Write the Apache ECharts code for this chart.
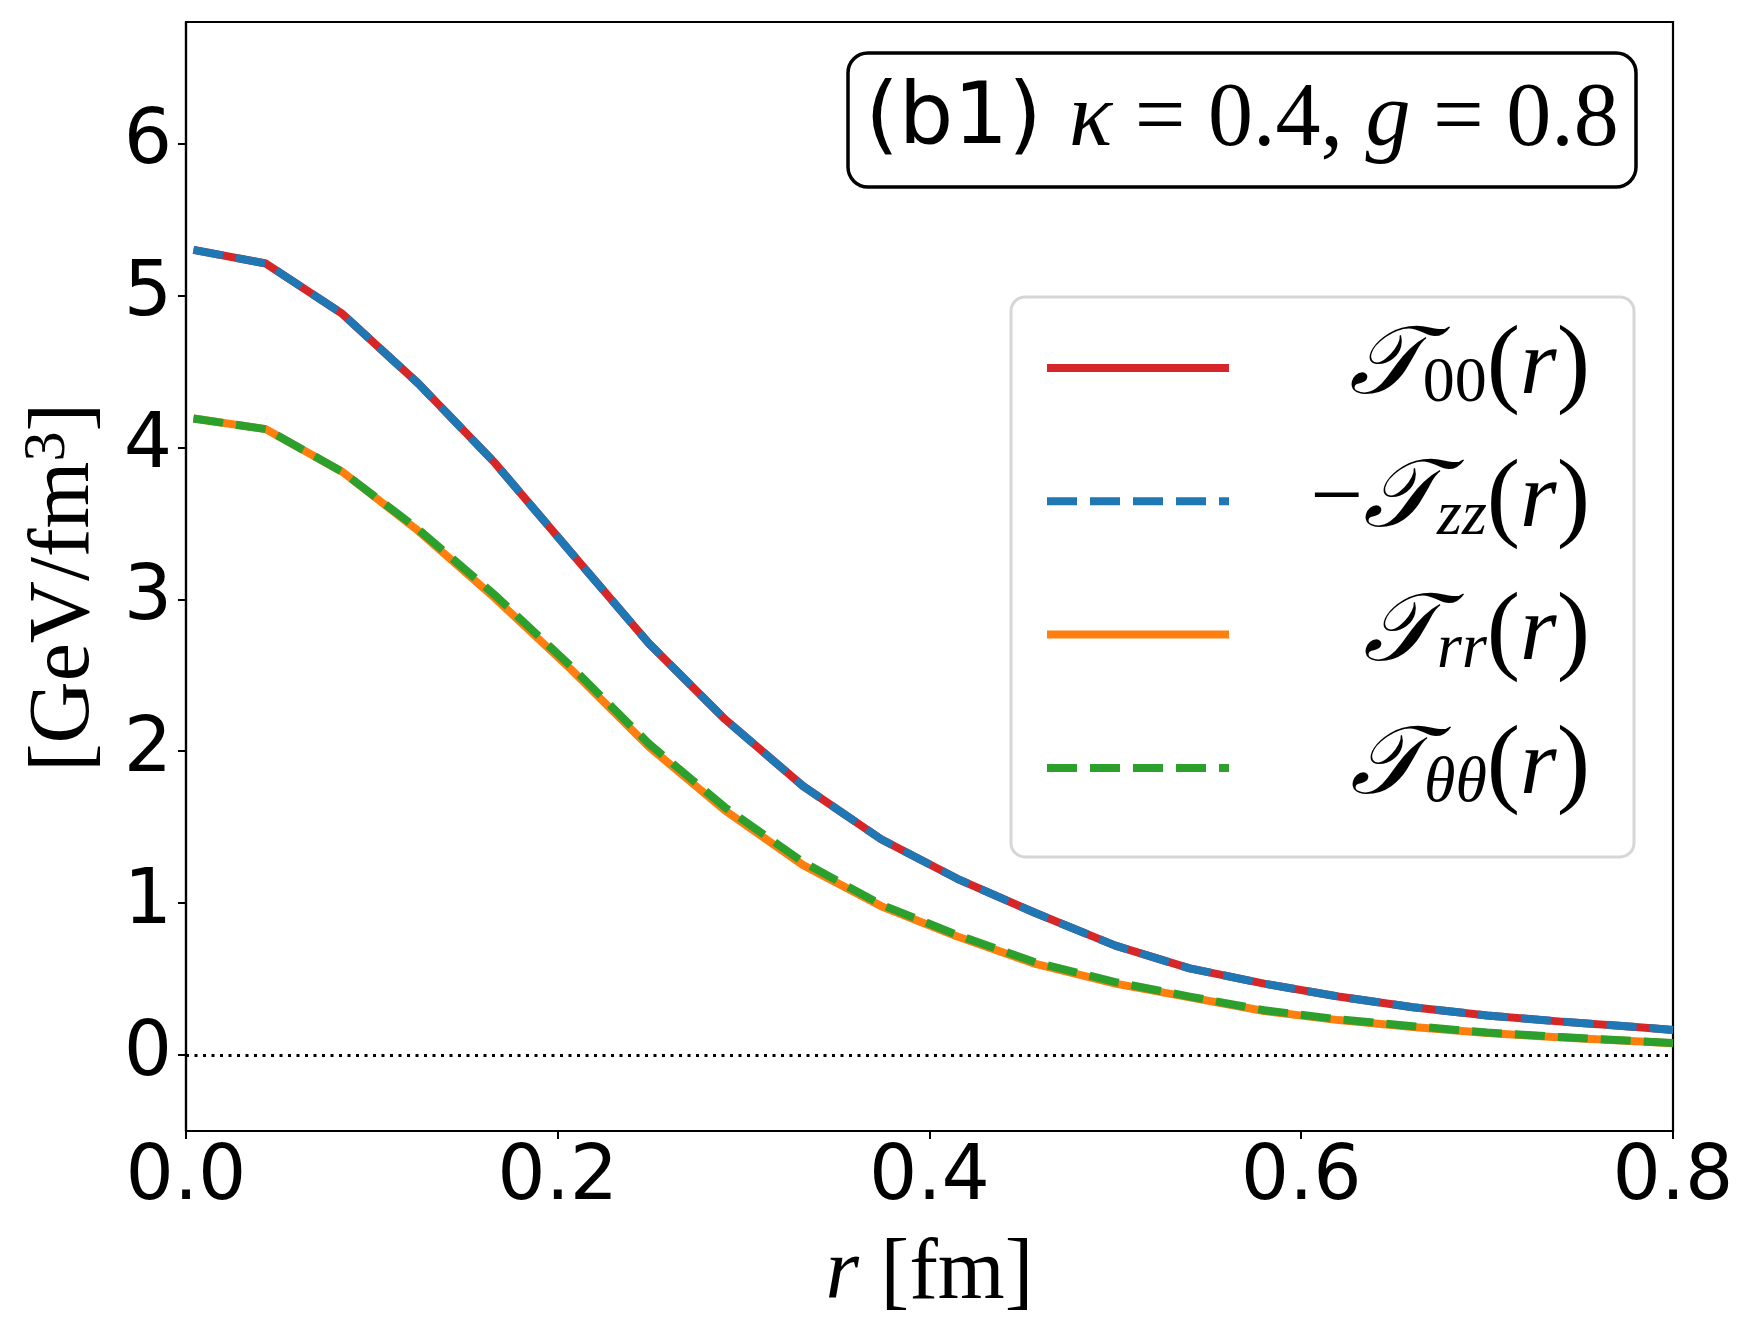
<!DOCTYPE html>
<html>
<head>
<meta charset="utf-8">
<script src="https://cdn.jsdelivr.net/npm/echarts@6.0.0/dist/echarts.min.js"></script>
<style>
  html, body { margin: 0; padding: 0; background: #fff; }
  #chart { width: 1749px; height: 1332px; }
</style>
</head>
<body>
<div id="chart"></div>
<script>
// radial grid and the four stress-tensor components (GeV/fm^3)
const rFm = [0.004, 0.043, 0.084, 0.125, 0.166, 0.207, 0.249, 0.290, 0.332, 0.374, 0.415,
             0.457, 0.500, 0.540, 0.580, 0.620, 0.660, 0.700, 0.740, 0.780, 0.800];
const t00 = [5.30, 5.21, 4.88, 4.42, 3.90, 3.31, 2.71, 2.21, 1.77, 1.42, 1.16,
             0.935, 0.72, 0.57, 0.47, 0.385, 0.315, 0.26, 0.22, 0.185, 0.165];
const tzzNeg = [5.30, 5.21, 4.88, 4.42, 3.90, 3.31, 2.71, 2.21, 1.77, 1.42, 1.16,
                0.935, 0.72, 0.57, 0.47, 0.385, 0.315, 0.26, 0.22, 0.185, 0.165];
const trr = [4.19, 4.12, 3.84, 3.45, 3.01, 2.54, 2.03, 1.61, 1.25, 0.98, 0.78,
             0.60, 0.47, 0.38, 0.29, 0.23, 0.185, 0.145, 0.115, 0.09, 0.078];
const tthth = [4.19, 4.12, 3.84, 3.46, 3.03, 2.56, 2.05, 1.63, 1.27, 0.99, 0.79,
               0.61, 0.48, 0.385, 0.295, 0.235, 0.19, 0.148, 0.118, 0.092, 0.08];

const yTicks = [0, 1, 2, 3, 4, 5, 6];

const SANS = "DejaVu Sans";
const SERIF = "Liberation Serif";

const pairs = (ys) => rFm.map((r, i) => [r, ys[i]]);

// mathtext-ish legend labels, right-aligned inside a fixed-width box
const LABELS = {
  T00: "{T|𝒯}{sub|00}{p|(}{i|r}{p|)}",
  Tzz: "{m|−}{T|𝒯}{subi|zz}{p|(}{i|r}{p|)}",
  Trr: "{T|𝒯}{subi|rr}{p|(}{i|r}{p|)}",
  Tth: "{T|𝒯}{subi|θθ}{p|(}{i|r}{p|)}",
};
const R = (o) => Object.assign({ align: "right", lineHeight: 90, color: "#000" }, o);

const line = (name, ys, color, dashed) => ({
  name, type: "line", data: pairs(ys), symbol: "none", silent: true,
  lineStyle: {
    color, width: 8, type: dashed ? [30, 13] : "solid",
    cap: "butt", join: "round",
  },
  itemStyle: { color },
});

const series = [
  line("T00", t00, "#d62728", false),
  line("Tzz", tzzNeg, "#1f77b4", true),
  line("Trr", trr, "#ff7f0e", false),
  line("Tth", tthth, "#2ca02c", true),
];
series[0].markLine = {
  silent: true, symbol: "none", label: { show: false },
  lineStyle: { color: "#000", type: [3, 5.5], width: 3 },
  data: [{ yAxis: 0 }],
};

const chart = echarts.init(document.getElementById("chart"), null, { renderer: "canvas" });
chart.setOption({
  animation: false,
  backgroundColor: "#fff",
  grid: {
    left: 186, right: 76, top: 22, bottom: 201,
    show: true, borderColor: "#000", borderWidth: 2.2, backgroundColor: "transparent",
  },
  xAxis: {
    type: "value", min: 0, max: 0.8, interval: 0.2,
    axisLine: { onZero: false, lineStyle: { color: "#000", width: 2.2 } },
    axisTick: { inside: false, length: 8, lineStyle: { color: "#000", width: 2 } },
    axisLabel: {
      color: "#000", fontFamily: SANS, fontSize: 76, margin: 10,
      showMinLabel: true, showMaxLabel: true,
      formatter: (v) => v.toFixed(1),
    },
    splitLine: { show: false },
    name: "{i|r} [fm]", nameLocation: "middle", nameGap: 101,
    nameTextStyle: {
      color: "#000", fontFamily: SERIF, fontSize: 86,
      rich: { i: { fontFamily: SERIF, fontStyle: "italic", fontSize: 86 } },
    },
  },
  yAxis: {
    type: "value", min: -0.5, max: 6.8,
    axisLine: { show: true, onZero: false, lineStyle: { color: "#000", width: 2.2 } },
    axisTick: { show: true, inside: false, length: 8, customValues: yTicks,
                lineStyle: { color: "#000", width: 2 } },
    axisLabel: { color: "#000", fontFamily: SANS, fontSize: 76, margin: 14,
                 customValues: yTicks },
    splitLine: { show: false },
    name: "[GeV/fm{sup|3}]", nameLocation: "middle", nameGap: 70, nameRotate: 90,
    nameTextStyle: {
      color: "#000", fontFamily: SERIF, fontSize: 86, padding: [0, 22, 0, 0],
      rich: { sup: { fontFamily: SERIF, fontSize: 60, lineHeight: 60, padding: [0, 0, 34, 0] } },
    },
  },
  legend: {
    orient: "vertical", left: 1011, top: 297,
    padding: [21, 44, 39, 32],
    itemWidth: 182, itemHeight: 16, itemGap: 33.3,
    backgroundColor: "rgba(255,255,255,0.85)",
    borderColor: "#d6d6d6", borderWidth: 3, borderRadius: 14,
    selectedMode: false,
    itemStyle: { opacity: 0 },
    lineStyle: { width: 8 },
    formatter: (n) => LABELS[n],
    textStyle: {
      width: 356, color: "#000",
      rich: {
        T: R({ fontFamily: "DejaVu Serif, " + SERIF, fontStyle: "italic", fontSize: 96 }),
        sub: R({ fontFamily: SERIF, fontSize: 64, lineHeight: 60, padding: [32, 0, 0, 0] }),
        subi: R({ fontFamily: SERIF, fontStyle: "italic", fontSize: 64, lineHeight: 60, padding: [32, 0, 0, 0] }),
        p: R({ fontFamily: SERIF, fontSize: 100 }),
        i: R({ fontFamily: SERIF, fontStyle: "italic", fontSize: 94 }),
        m: R({ fontFamily: SERIF, fontSize: 94 }),
      },
    },
    data: ["T00", "Tzz", "Trr", "Tth"],
  },
  graphic: [{
    type: "group", z: 100,
    children: [
      { type: "rect", shape: { x: 848, y: 53, width: 788, height: 134, r: 20 },
        style: { fill: "#fff", stroke: "#000", lineWidth: 3.5 } },
      { type: "text", x: 1242, y: 121,
        style: {
          text: "{s|(b1) }{i|κ}{r| = 0.4, }{i|g}{r| = 0.8}",
          align: "center", verticalAlign: "middle",
          rich: {
            s: { fontFamily: SANS, fontSize: 86, color: "#000" },
            i: { fontFamily: SERIF, fontStyle: "italic", fontSize: 90, color: "#000" },
            r: { fontFamily: SERIF, fontSize: 90, color: "#000" },
          },
        } },
    ],
  }],
  series,
});
</script>
</body>
</html>
